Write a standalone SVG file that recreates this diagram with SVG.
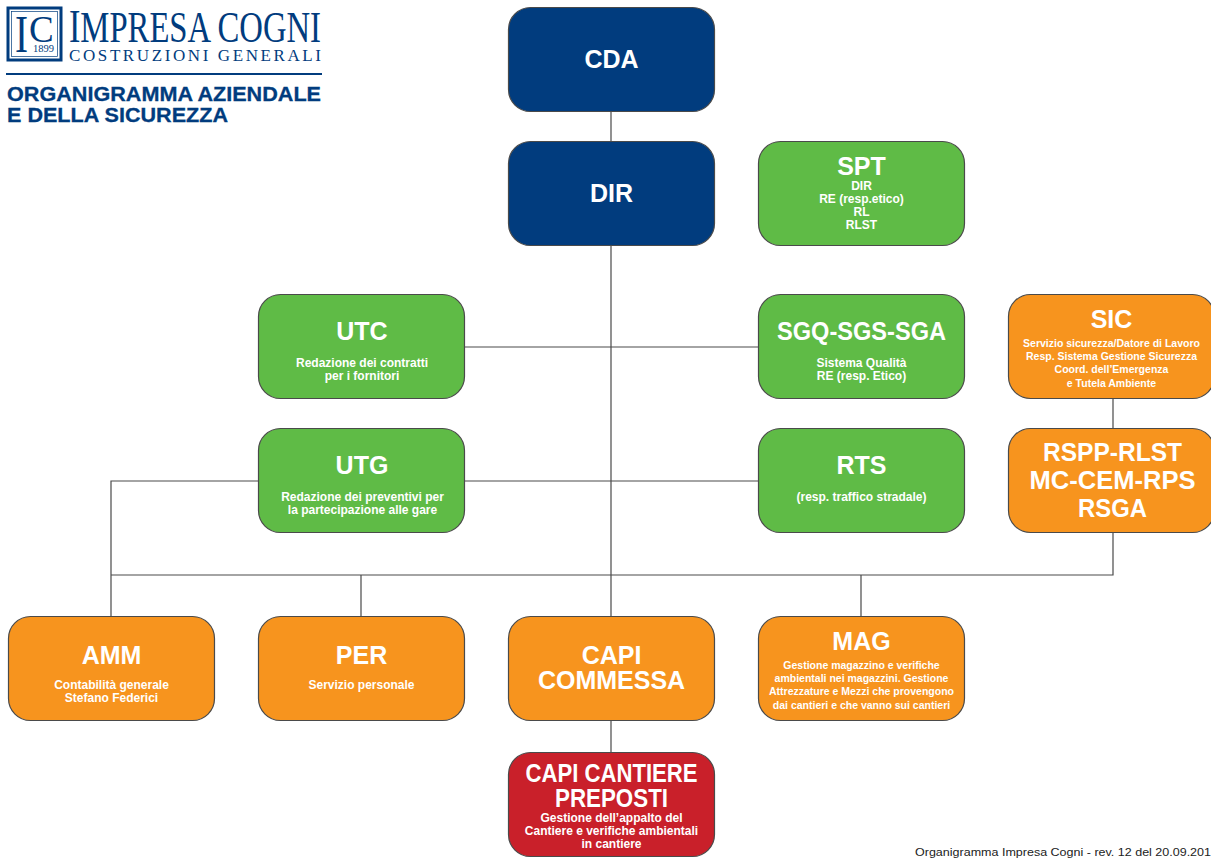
<svg xmlns="http://www.w3.org/2000/svg" width="1211" height="858" viewBox="0 0 1211 858">
<style>
text{font-family:"Liberation Sans",Arial,sans-serif;font-weight:700;fill:#fff;text-anchor:middle}
.box{stroke:#4a4a4a;stroke-width:1.2}
.navy{fill:#013c7e}.green{fill:#5fbb46}.orange{fill:#f7941e}.red{fill:#c9202a}
.t{font-size:25px}.s{font-size:10.5px}.m{font-size:12px}
.c{stroke:#4a4a4a;stroke-width:1.2;fill:none}
.brand{fill:#013c7e;text-anchor:start}
.head{font-size:21px;stroke:#013c7e;stroke-width:.3}
.serif{font-family:"Liberation Serif","Times New Roman",serif;font-weight:400}
</style>
<rect width="1211" height="858" fill="#fff"/>
<g id="connectors" class="c">
<path d="M611 111V141M611 245V617M465 347H759M465 481H759M259 481H111V617M111 575H1113V532M361 575V617M861 575V617M611 721V753M1113 399V429"/>
</g>
<g id="logo">
<rect x="8" y="8" width="53" height="52" fill="none" stroke="#013c7e" stroke-width="3"/>
<rect x="11.500" y="11.500" width="46" height="45" fill="none" stroke="#013c7e" stroke-width="0.700"/>
<text class="brand serif" x="15" y="52" style="font-size:53px" textLength="13" lengthAdjust="spacingAndGlyphs">I</text>
<text class="brand serif" x="29" y="42" style="font-size:37px">C</text>
<text class="brand serif" x="33" y="52" style="font-size:10px" textLength="21" lengthAdjust="spacingAndGlyphs">1899</text>
<text class="brand serif" x="69" y="42" textLength="252" lengthAdjust="spacingAndGlyphs" style="font-size:45px"><tspan style="font-size:47px">I</tspan>MPRESA COGNI</text>
<text class="brand serif" x="69" y="61" style="font-size:17px" textLength="252">COSTRUZIONI GENERALI</text>
<rect x="6" y="73" width="316" height="2" fill="#013c7e"/>
<text class="brand head" x="7" y="101" textLength="314" lengthAdjust="spacingAndGlyphs">ORGANIGRAMMA AZIENDALE</text>
<text class="brand head" x="7" y="122" textLength="221" lengthAdjust="spacingAndGlyphs">E DELLA SICUREZZA</text>
</g>
<g id="CDA"><rect class="box navy" x="508.500" y="7.500" width="206" height="104" rx="22"/><text class="t" x="611.500" y="68">CDA</text></g>
<g id="DIR"><rect class="box navy" x="508.500" y="141.500" width="206" height="104" rx="22"/><text class="t" x="611.500" y="202">DIR</text></g>
<g id="SPT"><rect class="box green" x="758.500" y="141.500" width="206" height="104" rx="22"/><text class="t" x="861.500" y="175">SPT</text><text class="m" x="861.500" y="190">DIR</text><text class="m" x="861.500" y="203">RE (resp.etico)</text><text class="m" x="861.500" y="216">RL</text><text class="m" x="861.500" y="229">RLST</text></g>
<g id="UTC"><rect class="box green" x="258.500" y="294.500" width="206" height="104" rx="22"/><text class="t" x="362" y="340">UTC</text><text class="m" x="362" y="367">Redazione dei contratti</text><text class="m" x="362" y="380">per i fornitori</text></g>
<g id="SGQ-SGS-SGA"><rect class="box green" x="758.500" y="294.500" width="206" height="104" rx="22"/><text class="t" x="861.500" y="340" textLength="169" lengthAdjust="spacingAndGlyphs">SGQ-SGS-SGA</text><text class="m" x="861.500" y="367">Sistema Qualità</text><text class="m" x="861.500" y="380">RE (resp. Etico)</text></g>
<g id="SIC"><rect class="box orange" x="1008.500" y="294.500" width="206" height="104" rx="22"/><text class="t" x="1111.500" y="328">SIC</text><text class="s" x="1111.500" y="347">Servizio sicurezza/Datore di Lavoro</text><text class="s" x="1111.500" y="360">Resp. Sistema Gestione Sicurezza</text><text class="s" x="1111.500" y="373">Coord. dell’Emergenza</text><text class="s" x="1111.500" y="387">e Tutela Ambiente</text></g>
<g id="UTG"><rect class="box green" x="258.500" y="428.500" width="206" height="104" rx="22"/><text class="t" x="362" y="474">UTG</text><text class="m" x="362.500" y="501">Redazione dei preventivi per</text><text class="m" x="362.500" y="514">la partecipazione alle gare</text></g>
<g id="RTS"><rect class="box green" x="758.500" y="428.500" width="206" height="104" rx="22"/><text class="t" x="861.500" y="474">RTS</text><text class="m" x="861.500" y="501">(resp. traffico stradale)</text></g>
<g id="RSPP"><rect class="box orange" x="1008.500" y="428.500" width="206" height="104" rx="22"/><text class="t" x="1112.500" y="461" textLength="139" lengthAdjust="spacingAndGlyphs">RSPP-RLST</text><text class="t" x="1112.500" y="489" textLength="166" lengthAdjust="spacingAndGlyphs">MC-CEM-RPS</text><text class="t" x="1112.500" y="517" textLength="69" lengthAdjust="spacingAndGlyphs">RSGA</text></g>
<g id="AMM"><rect class="box orange" x="8.500" y="616.500" width="206" height="104" rx="22"/><text class="t" x="111.500" y="664">AMM</text><text class="m" x="111.500" y="689">Contabilità generale</text><text class="m" x="111.500" y="702">Stefano Federici</text></g>
<g id="PER"><rect class="box orange" x="258.500" y="616.500" width="206" height="104" rx="22"/><text class="t" x="361.500" y="664">PER</text><text class="m" x="361.500" y="689">Servizio personale</text></g>
<g id="CAPI-COMMESSA"><rect class="box orange" x="508.500" y="616.500" width="206" height="104" rx="22"/><text class="t" x="611.500" y="664">CAPI</text><text class="t" x="611.500" y="689">COMMESSA</text></g>
<g id="MAG"><rect class="box orange" x="758.500" y="616.500" width="206" height="104" rx="22"/><text class="t" x="861.500" y="650">MAG</text><text class="s" x="861.500" y="669">Gestione magazzino e verifiche</text><text class="s" x="861.500" y="682">ambientali nei magazzini. Gestione</text><text class="s" x="861.500" y="695">Attrezzature e Mezzi che provengono</text><text class="s" x="861.500" y="709">dai cantieri e che vanno sui cantieri</text></g>
<g id="CAPI-CANTIERE"><rect class="box red" x="508.500" y="752.500" width="206" height="104" rx="22"/><text class="t" x="611.500" y="782" textLength="172" lengthAdjust="spacingAndGlyphs">CAPI CANTIERE</text><text class="t" x="611.500" y="807" textLength="113" lengthAdjust="spacingAndGlyphs">PREPOSTI</text><text class="m" x="611.500" y="822">Gestione dell’appalto del</text><text class="m" x="611.500" y="835">Cantiere e verifiche ambientali</text><text class="m" x="611.500" y="848">in cantiere</text></g>
<text x="915" y="856" style="font-size:11.500px;font-weight:400;fill:#222;text-anchor:start" textLength="296" lengthAdjust="spacingAndGlyphs">Organigramma Impresa Cogni - rev. 12 del 20.09.201</text>
</svg>
